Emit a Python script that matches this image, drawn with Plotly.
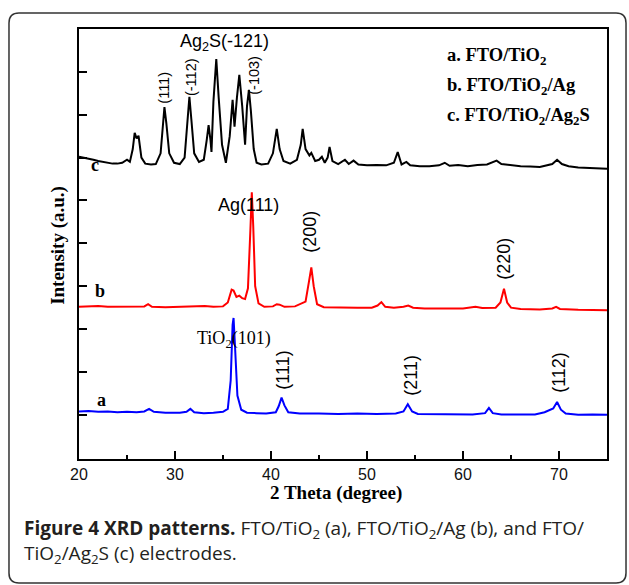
import plotly.graph_objects as go

# ---- data (2θ in degrees, intensity in offset units) ----
a_x = [20, 21, 22, 23, 24, 25, 26, 26.8, 27.3, 27.8, 29, 30.5, 31.2, 31.6, 32.0, 33, 34, 35.0, 35.5, 35.8,
       36.0, 36.1, 36.25, 36.5, 36.9, 37.5, 38.5, 39.5, 40.5, 40.8, 41.1, 41.4, 41.8, 43, 45, 47, 49, 51, 53,
       53.8, 54.25, 54.7, 55.3, 57, 59, 61, 62.3, 62.7, 63.1, 64, 66, 67.5, 68.5, 69.0, 69.4, 69.8, 70.2,
       70.7, 72, 73.5, 75]
a_y = [0.08, 0.09, 0.07, 0.08, 0.06, 0.07, 0.06, 0.08, 0.14, 0.07, 0.05, 0.05, 0.07, 0.14, 0.06, 0.04, 0.05,
       0.07, 0.14, 0.8, 2.1, 2.26, 1.6, 0.45, 0.12, 0.05, 0.04, 0.03, 0.06, 0.2, 0.40, 0.22, 0.06, 0.03,
       0.03, 0.02, 0.03, 0.02, 0.03, 0.08, 0.25, 0.08, 0.02, 0.02, 0.01, 0.01, 0.04, 0.16, 0.04, 0.01,
       0.01, 0.01, 0.06, 0.10, 0.15, 0.30, 0.12, 0.03, 0.0, 0.01, 0.0]

b_x = [20, 21, 22, 23, 24, 25, 26, 26.8, 27.2, 27.6, 29, 30.5, 32.0, 33.1, 34, 35.0, 35.5, 35.9, 36.1, 36.4,
       36.7, 37.0, 37.3, 37.6, 37.85, 38.0, 38.15, 38.35, 38.7, 39.3, 40.2, 40.6, 40.9, 41.4, 42.5, 43.2,
       43.6, 43.95, 44.2, 44.45, 44.8, 45.5, 47, 49, 50.5, 51.1, 51.5, 51.9, 52.8, 53.8, 54.3, 54.8, 56,
       58, 60, 61.3, 62, 63.4, 63.9, 64.27, 64.6, 65, 66, 68, 69.3, 69.7, 70.1, 72, 75]
b_y = [2.52, 2.53, 2.54, 2.52, 2.52, 2.53, 2.52, 2.53, 2.58, 2.52, 2.51, 2.52, 2.53, 2.54, 2.52, 2.53, 2.62,
       2.92, 2.90, 2.75, 2.78, 2.72, 2.70, 2.95, 4.3, 5.19, 4.4, 3.0, 2.6, 2.52, 2.53, 2.58, 2.57, 2.52,
       2.53, 2.60, 2.64, 3.1, 3.44, 3.0, 2.58, 2.51, 2.50, 2.50, 2.50, 2.55, 2.63, 2.52, 2.50, 2.52, 2.55,
       2.50, 2.48, 2.48, 2.48, 2.52, 2.49, 2.50, 2.62, 2.94, 2.62, 2.50, 2.47, 2.46, 2.48, 2.52, 2.47,
       2.45, 2.44]

c_x = [20, 20.5, 21, 21.5, 22, 22.5, 23, 23.5, 24, 24.5, 25.0, 25.3, 25.6, 25.8, 26.0, 26.2, 26.5, 26.9,
       27.5, 28.0, 28.5, 28.75, 28.9, 29.1, 29.4, 29.9, 30.5, 31.0, 31.3, 31.5, 31.7, 32.0, 32.5, 33.0,
       33.3, 33.5, 33.7, 33.8, 34.0, 34.3, 34.55, 34.9, 35.3, 35.7, 36.0, 36.2, 36.45, 36.7, 37.0, 37.3,
       37.5, 37.7, 37.9, 38.2, 38.5, 39.0, 39.7, 40.2, 40.6, 40.9, 41.3, 42.0, 42.7, 43.1, 43.3, 43.6,
       44.0, 44.2, 44.6, 45.0, 45.3, 45.6, 45.9, 46.1, 46.4, 47.0, 47.7, 48.1, 48.6, 49.1, 50.0, 51.0,
       52.0, 52.8, 53.2, 53.6, 54.1, 54.5, 55.5, 56.5, 57.5, 58.1, 58.6, 59.5, 60.5, 61.5, 62.5, 63.0,
       63.5, 64.0, 65.0, 66.0, 67, 68, 69.3, 69.8, 70.3, 71, 72, 73, 74, 75]
c_y = [6.02, 6.00, 5.98, 5.95, 5.92, 5.90, 5.88, 5.86, 5.86, 5.88, 5.95, 5.90, 6.2, 6.58, 6.45, 6.51, 6.0,
       5.86, 5.84, 5.85, 6.1, 6.8, 7.18, 6.8, 6.1, 5.88, 5.85, 6.0, 6.9, 7.42, 6.9, 6.1, 5.9, 5.95, 6.4,
       6.76, 6.4, 6.13, 7.3, 8.30, 7.4, 6.3, 5.88, 6.5, 7.35, 6.72, 7.4, 7.93, 7.2, 6.30, 7.2, 7.58, 7.1,
       6.2, 5.88, 5.84, 5.86, 6.1, 6.67, 6.2, 5.92, 5.86, 5.95, 6.3, 6.67, 6.2, 6.05, 6.11, 5.92, 5.95,
       6.02, 5.88, 6.0, 6.25, 5.92, 5.85, 5.95, 5.85, 5.93, 5.84, 5.82, 5.83, 5.82, 5.88, 6.13, 5.84,
       5.90, 5.82, 5.80, 5.80, 5.82, 5.88, 5.81, 5.83, 5.80, 5.83, 5.84, 5.88, 5.93, 5.85, 5.82, 5.80,
       5.79, 5.78, 5.85, 5.95, 5.85, 5.80, 5.77, 5.76, 5.75, 5.74]

x_tick_vals = [20, 30, 40, 50, 60, 70]
y_tick_vals = [0, 1, 2, 3, 4, 5, 6, 7, 8]

legend_lines = ["a. FTO/TiO<sub>2</sub>", "b. FTO/TiO<sub>2</sub>/Ag", "c. FTO/TiO<sub>2</sub>/Ag<sub>2</sub>S"]
curve_letters = ["a", "b", "c"]
curve_letter_pos = [(22.36, 0.35), (22.15, 2.90), (21.7, 5.83)]

# (text, x, y, angle, size, family)
SANS = "Arial, Liberation Sans, sans-serif"
SERIF = "Times New Roman, Liberation Serif, serif"
peak_labels = [
    ("Ag<sub>2</sub>S(-121)", 35.2, 8.68, 0, 18, SANS),
    ("(111)", 28.85, 7.63, -90, 14.5, SANS),
    ("(-112)", 31.67, 7.88, -90, 14.5, SANS),
    ("(-103)", 38.23, 7.91, -90, 14.5, SANS),
    ("Ag(111)", 37.7, 4.90, 0, 18, SANS),
    ("(200)", 44.13, 4.26, -90, 18, SANS),
    ("(220)", 64.27, 3.64, -90, 18, SANS),
    ("TiO<sub>2</sub>(101)", 36.15, 1.75, 0, 18, SERIF),
    ("(111)", 41.25, 1.03, -90, 18, SANS),
    ("(211)", 54.55, 0.93, -90, 18, SANS),
    ("(112)", 70.0, 0.98, -90, 18, SANS),
]

fig = go.Figure()
fig.add_trace(go.Scatter(x=a_x, y=a_y, mode="lines", line=dict(color="#0000ff", width=2), showlegend=False))
fig.add_trace(go.Scatter(x=b_x, y=b_y, mode="lines", line=dict(color="#ff0000", width=2), showlegend=False))
fig.add_trace(go.Scatter(x=c_x, y=c_y, mode="lines", line=dict(color="#000000", width=2), showlegend=False))

ann = []
for t, x, y, ang, sz, fam in peak_labels:
    ann.append(dict(text=t, x=x, y=y, xref="x", yref="y", showarrow=False, textangle=ang,
                    font=dict(size=sz, family=fam, color="#000")))
for letter, (x, y) in zip(curve_letters, curve_letter_pos):
    ann.append(dict(text="<b>%s</b>" % letter, x=x, y=y, xref="x", yref="y", showarrow=False,
                    font=dict(size=18, family=SERIF, color="#000")))
for i, t in enumerate(legend_lines):
    ann.append(dict(text="<b>%s</b>" % t, x=0.693, y=0.937 - i * 0.0698, xref="paper", yref="paper",
                    xanchor="left", yanchor="middle", showarrow=False, align="left",
                    font=dict(size=18.5, family=SERIF, color="#000")))
ann.append(dict(text="<b>2 Theta (degree)</b>", x=0.487, y=-0.109, xref="paper", yref="paper",
                showarrow=False, font=dict(size=19, family=SERIF, color="#000")))
ann.append(dict(text="<b>Intensity (a.u.)</b>", x=-0.0644, y=0.498, xref="paper", yref="paper",
                showarrow=False, textangle=-90, font=dict(size=19, family=SERIF, color="#000")))
CAP = "Open Sans, Noto Sans, sans-serif"
ann.append(dict(text="<b>Figure 4 XRD patterns.</b> FTO/TiO<sub>2</sub> (a), FTO/TiO<sub>2</sub>/Ag (b), and FTO/",
                x=-0.108, y=-0.163, xref="paper", yref="paper", xanchor="left", yanchor="middle",
                showarrow=False, align="left", font=dict(size=19, family=CAP, color="#231f20")))
ann.append(dict(text="TiO<sub>2</sub>/Ag<sub>2</sub>S (c) electrodes.",
                x=-0.108, y=-0.221, xref="paper", yref="paper", xanchor="left", yanchor="middle",
                showarrow=False, align="left", font=dict(size=19, family=CAP, color="#231f20")))

# rounded outer border (paper coords)
x0, x1, y0, y1 = -0.1326, 1.036, -0.2884, 1.0372
rx, ry = 0.0189, 0.0233
path = (f"M {x0+rx},{y1} L {x1-rx},{y1} Q {x1},{y1} {x1},{y1-ry} L {x1},{y0+ry} Q {x1},{y0} {x1-rx},{y0} "
        f"L {x0+rx},{y0} Q {x0},{y0} {x0},{y0+ry} L {x0},{y1-ry} Q {x0},{y1} {x0+rx},{y1} Z")

fig.update_layout(
    width=629, height=585,
    margin=dict(l=79, r=22, t=29, b=126),
    paper_bgcolor="white", plot_bgcolor="white",
    annotations=ann,
    shapes=[dict(type="path", path=path, xref="paper", yref="paper", line=dict(color="#333", width=1.5))],
    xaxis=dict(range=[20, 75], tickvals=x_tick_vals, ticks="inside", ticklen=8, tickwidth=2,
               tickcolor="#000", showline=True, linewidth=2, linecolor="#000", mirror=True,
               showgrid=False, zeroline=False,
               tickfont=dict(size=16, family=SANS, color="#111"),
               minor=dict(dtick=5, tick0=20, ticks="inside", ticklen=4, tickwidth=2, tickcolor="#000")),
    yaxis=dict(range=[-1.03, 9.0], tickvals=y_tick_vals, ticks="inside", ticklen=8, tickwidth=2,
               tickcolor="#000", showline=True, linewidth=2, linecolor="#000", mirror=True,
               showgrid=False, zeroline=False, showticklabels=False),
)
fig.write_html("out.html", config={"displayModeBar": False},
               post_script="document.body.style.margin='0';document.body.style.padding='0';"
                           "document.body.style.overflow='hidden';")
